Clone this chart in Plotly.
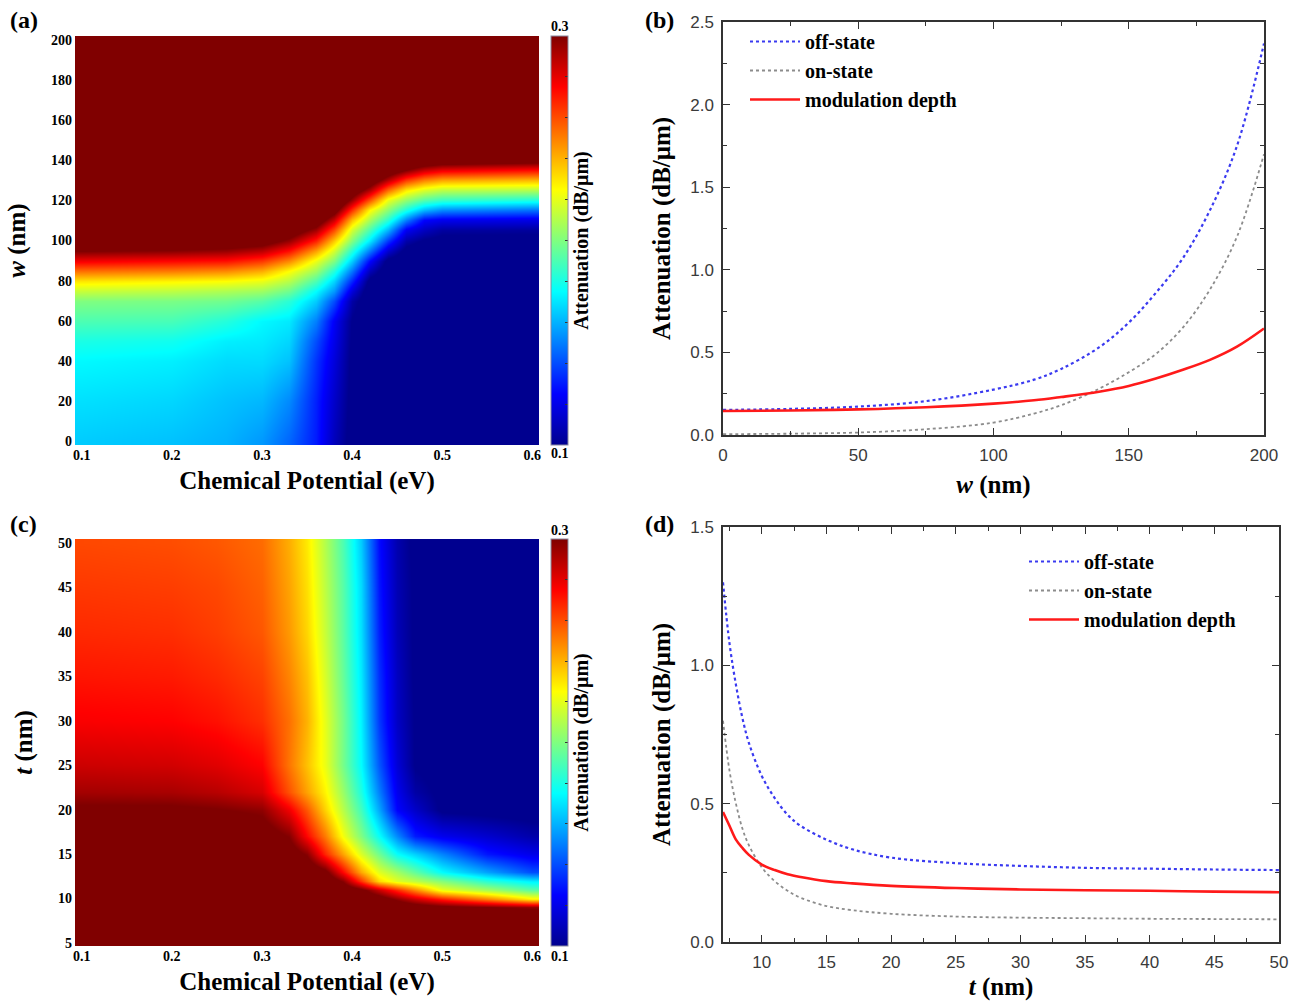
import plotly.graph_objects as go

# ---------------- data ----------------
# (a) attenuation map: chemical potential (columns) vs waveguide width w (rows)
mu_a = [0.1, 0.2, 0.26, 0.3, 0.33, 0.36, 0.38, 0.4, 0.42, 0.44, 0.46, 0.48, 0.5, 0.6]
w_a = [0, 20, 40, 50, 60, 70, 75, 80, 85, 90, 95, 100, 105, 110, 115, 120, 125, 130, 135, 140, 150, 200]
# one list per chemical-potential column, ordered like w_a
cols_a = [
    [.165, .169, .174, .180, .190, .200, .214, .230, .253, .277, .300, .320, .330, .340, .340, .340, .340, .340, .340, .340, .340, .340],
    [.163, .167, .172, .178, .189, .199, .212, .227, .251, .274, .298, .318, .330, .340, .340, .340, .340, .340, .340, .340, .340, .340],
    [.160, .163, .168, .172, .182, .197, .209, .225, .248, .272, .295, .315, .330, .340, .340, .340, .340, .340, .340, .340, .340, .340],
    [.155, .161, .168, .171, .174, .192, .206, .221, .241, .264, .288, .310, .325, .335, .340, .340, .340, .340, .340, .340, .340, .340],
    [.145, .152, .163, .167, .171, .183, .197, .211, .225, .248, .272, .295, .315, .330, .340, .340, .340, .340, .340, .340, .340, .340],
    [.130, .131, .135, .140, .150, .165, .175, .190, .206, .221, .243, .268, .293, .315, .330, .340, .340, .340, .340, .340, .340, .340],
    [.110, .113, .117, .120, .123, .140, .155, .167, .182, .200, .216, .235, .260, .285, .310, .330, .340, .340, .340, .340, .340, .340],
    [.095, .096, .097, .098, .099, .105, .117, .132, .148, .165, .182, .200, .216, .237, .265, .294, .315, .330, .340, .340, .340, .340],
    [.090, .090, .090, .090, .090, .090, .090, .095, .109, .125, .148, .170, .189, .207, .225, .258, .290, .315, .330, .340, .340, .340],
    [.090, .090, .090, .090, .090, .090, .090, .090, .090, .095, .114, .135, .160, .183, .202, .221, .254, .289, .315, .330, .340, .340],
    [.090, .090, .090, .090, .090, .090, .090, .090, .090, .090, .095, .106, .122, .150, .180, .204, .229, .264, .300, .325, .340, .340],
    [.090, .090, .090, .090, .090, .090, .090, .090, .090, .090, .090, .098, .111, .125, .161, .192, .218, .250, .286, .320, .340, .340],
    [.090, .090, .090, .090, .090, .090, .090, .090, .090, .090, .090, .095, .104, .121, .152, .186, .212, .243, .279, .315, .340, .340],
    [.090, .090, .090, .090, .090, .090, .090, .090, .090, .090, .090, .095, .103, .119, .147, .181, .210, .239, .273, .310, .340, .340],
]

# (c) attenuation map: chemical potential (columns) vs thickness t (rows)
mu_c = [0.1, 0.2, 0.25, 0.3, 0.33, 0.35, 0.37, 0.39, 0.41, 0.43, 0.45, 0.47, 0.5, 0.55, 0.6]
t_c = [5, 8, 9, 10, 11, 12, 13, 15, 17, 20, 22, 25, 30, 35, 40, 45, 50]
z_c = [
    [.32, .32, .32, .32, .32, .32, .32, .32, .32, .32, .32, .32, .32, .32, .32],
    [.32, .32, .32, .32, .32, .32, .32, .32, .32, .32, .32, .32, .32, .32, .32],
    [.32, .32, .32, .32, .32, .32, .32, .32, .32, .32, .315, .31, .305, .30, .295],
    [.32, .32, .32, .32, .32, .32, .32, .32, .315, .31, .297, .285, .27, .25, .228],
    [.32, .32, .32, .32, .32, .32, .32, .315, .305, .286, .268, .249, .222, .208, .193],
    [.32, .32, .32, .32, .32, .32, .315, .298, .265, .232, .219, .212, .201, .183, .172],
    [.32, .32, .32, .32, .32, .315, .305, .274, .242, .219, .207, .194, .175, .157, .14],
    [.32, .32, .32, .32, .31, .298, .268, .243, .218, .197, .176, .166, .151, .129, .12],
    [.32, .32, .32, .31, .299, .274, .251, .223, .20, .176, .152, .13, .121, .114, .106],
    [.303, .303, .301, .297, .278, .258, .234, .211, .188, .158, .125, .113, .098, .096, .095],
    [.293, .292, .289, .283, .259, .243, .227, .205, .181, .15, .121, .105, .097, .095, .095],
    [.285, .284, .281, .275, .252, .237, .221, .198, .175, .142, .116, .099, .095, .095, .095],
    [.276, .275, .272, .266, .253, .240, .220, .198, .173, .136, .112, .099, .095, .095, .095],
    [.271, .270, .267, .262, .249, .237, .217, .195, .171, .134, .111, .098, .095, .095, .095],
    [.267, .266, .263, .258, .245, .233, .214, .193, .169, .131, .109, .098, .095, .095, .095],
    [.264, .263, .261, .256, .243, .231, .212, .192, .168, .129, .108, .098, .095, .095, .095],
    [.261, .260, .258, .254, .241, .229, .210, .190, .165, .127, .107, .097, .095, .095, .095],
]

# (b) attenuation vs w
w_b = [0, 25, 50, 75, 100, 115, 125, 139, 150, 160, 170, 180, 190, 200]
off_b = [0.152, 0.158, 0.172, 0.205, 0.275, 0.335, 0.40, 0.53, 0.68, 0.86, 1.07, 1.36, 1.75, 2.37]
on_b = [0.005, 0.008, 0.015, 0.035, 0.075, 0.13, 0.18, 0.28, 0.38, 0.49, 0.65, 0.88, 1.20, 1.70]
mod_b = [0.145, 0.148, 0.155, 0.168, 0.19, 0.21, 0.23, 0.262, 0.297, 0.342, 0.395, 0.455, 0.535, 0.645]

# (d) attenuation vs t
t_d = [7, 7.5, 8, 8.5, 9, 10, 11, 12, 13, 15, 17, 20, 25, 30, 35, 40, 45, 50]
off_d = [1.30, 1.08, 0.93, 0.81, 0.72, 0.60, 0.52, 0.46, 0.42, 0.37, 0.335, 0.305, 0.285, 0.275, 0.268, 0.265, 0.262, 0.26]
on_d = [0.80, 0.62, 0.50, 0.41, 0.35, 0.27, 0.22, 0.185, 0.16, 0.13, 0.115, 0.102, 0.092, 0.088, 0.086, 0.084, 0.083, 0.082]
mod_d = [0.47, 0.42, 0.37, 0.34, 0.315, 0.28, 0.26, 0.245, 0.235, 0.22, 0.212, 0.203, 0.195, 0.19, 0.187, 0.185, 0.182, 0.18]

legend_names = ["off-state", "on-state", "modulation depth"]

# ---------------- style ----------------
SERIF = "Liberation Serif, Times New Roman, serif"
SANS = "Liberation Sans, Arial, sans-serif"
jet = [[0.0, "rgb(0,0,143)"], [0.125, "rgb(0,0,255)"], [0.375, "rgb(0,255,255)"],
       [0.625, "rgb(255,255,0)"], [0.875, "rgb(255,0,0)"], [1.0, "rgb(128,0,0)"]]

W, H = 1289, 1001
def px(x):
    return x / W
def py(y):
    return 1 - y / H

z_a = [list(r) for r in zip(*cols_a)]

fig = go.Figure()

def cbar(top, bottom):
    return dict(
        x=px(551), xanchor="left", xpad=0, ypad=0,
        y=(py(top) + py(bottom)) / 2, yanchor="middle",
        len=(bottom - top) / H, lenmode="fraction", thickness=17,
        outlinewidth=1, outlinecolor="#8a8aa0",
        ticks="inside", ticklen=3, tickcolor="#333", tickwidth=1,
        tick0=0.1, dtick=0.02, showticklabels=False,
        title=dict(text="Attenuation (dB/μm)", side="right",
                   font=dict(family=SERIF, size=20, color="black", weight="bold")),
    )

fig.add_trace(go.Heatmap(x=mu_a, y=w_a, z=z_a, colorscale=jet, zmin=0.1, zmax=0.3,
                         zsmooth="best", colorbar=cbar(36, 445), xaxis="x", yaxis="y"))
fig.add_trace(go.Heatmap(x=mu_c, y=t_c, z=z_c, colorscale=jet, zmin=0.1, zmax=0.3,
                         zsmooth="best", colorbar=cbar(539, 946), xaxis="x3", yaxis="y3"))

line_styles = [
    dict(color="#3a3af0", width=2.2, dash="dot"),
    dict(color="#8c8c8c", width=1.8, dash="dot"),
    dict(color="#ff1a1a", width=2.6, dash="solid"),
]
for name, ys, st in zip(legend_names, [off_b, on_b, mod_b], line_styles):
    fig.add_trace(go.Scatter(x=w_b, y=ys, mode="lines", name=name, line=dict(shape="spline", **st),
                             xaxis="x2", yaxis="y2", legend="legend"))
for name, ys, st in zip(legend_names, [off_d, on_d, mod_d], line_styles):
    fig.add_trace(go.Scatter(x=t_d, y=ys, mode="lines", name=name, line=dict(shape="spline", **st),
                             xaxis="x4", yaxis="y4", legend="legend2"))

heat_tick = dict(family=SERIF, size=14, color="black", weight="bold")
title_font = dict(family=SERIF, size=25, color="black", weight="bold")
sans_tick = dict(family=SANS, size=17, color="#3a3a3a")

def heat_x(dom):
    return dict(domain=dom, range=[0.0925, 0.6075], tick0=0.1, dtick=0.1, tickformat=".1f",
                ticks="", showline=False, showgrid=False, zeroline=False, tickfont=heat_tick,
                ticklabelstandoff=0, automargin=False, ticklabeloverflow="allow",
                title=dict(text="Chemical Potential (eV)", font=title_font, standoff=9))

def heat_y(dom, rng, d, ttl):
    return dict(domain=dom, range=rng, dtick=d, ticks="", showline=False, showgrid=False,
                zeroline=False, tickfont=heat_tick, ticklabelstandoff=2, automargin=False,
                ticklabeloverflow="allow",
                title=dict(text=ttl, font=title_font, standoff=18))

def line_axis(dom, rng, d, minor_d, fmt, ttl, standoff, anchor):
    return dict(domain=dom, range=rng, dtick=d, tick0=0, tickformat=fmt,
                showline=True, linecolor="#333", linewidth=1.5, mirror="allticks",
                ticks="inside", ticklen=7, tickwidth=1.3, tickcolor="#333",
                minor=dict(dtick=minor_d, ticks="inside", ticklen=4, tickwidth=1.2, tickcolor="#333"),
                showgrid=False, zeroline=False, tickfont=sans_tick, ticklabelstandoff=4,
                anchor=anchor, automargin=False, ticklabeloverflow="allow",
                title=dict(text=ttl, font=title_font, standoff=standoff))

legend_common = dict(font=dict(family=SERIF, size=20, color="black", weight="bold"),
                     bgcolor="rgba(0,0,0,0)", borderwidth=0, xanchor="left", yanchor="top",
                     tracegroupgap=0, itemwidth=50)

fig.update_layout(
    width=W, height=H, margin=dict(l=0, r=0, t=0, b=0, autoexpand=False),
    paper_bgcolor="white", plot_bgcolor="white", showlegend=True,
    xaxis=dict(**heat_x([px(75), px(539)]), anchor="y"),
    yaxis=dict(**heat_y([py(445), py(36)], [-2, 202], 20, "<i>w</i> (nm)"), anchor="x"),
    xaxis3=dict(**heat_x([px(75), px(539)]), anchor="y3"),
    yaxis3=dict(**heat_y([py(946), py(539)], [4.66, 50.45], 5, "<i>t</i> (nm)"), anchor="x3"),
    xaxis2=line_axis([px(723), px(1264)], [0, 200], 50, 25, "d", "<i>w</i> (nm)", 11, "y2"),
    yaxis2=line_axis([py(435), py(22)], [0, 2.5], 0.5, 0.25, ".1f", "Attenuation (dB/μm)", 12, "x2"),
    xaxis4=line_axis([px(723), px(1279)], [7, 50], 5, 2.5, "d", "<i>t</i> (nm)", 15, "y4"),
    yaxis4=line_axis([py(942), py(527)], [0, 1.5], 0.5, 0.25, ".1f", "Attenuation (dB/μm)", 12, "x4"),
    legend=dict(x=px(745), y=py(22), **legend_common),
    legend2=dict(x=px(1024), y=py(542), **legend_common),
)

ann_font = dict(family=SERIF, size=24, color="black", weight="bold")
for txt, x, y in [("(a)", 8, 20), ("(b)", 643, 20), ("(c)", 8, 524), ("(d)", 643, 524)]:
    fig.add_annotation(text=txt, x=px(x), y=py(y), xref="paper", yref="paper",
                       xanchor="left", yanchor="middle", showarrow=False, font=ann_font)
cb_font = dict(family=SERIF, size=14, color="black", weight="bold")
for txt, y in [("0.3", 27), ("0.1", 454), ("0.3", 530), ("0.1", 956)]:
    fig.add_annotation(text=txt, x=px(560), y=py(y), xref="paper", yref="paper",
                       xanchor="center", yanchor="middle", showarrow=False, font=cb_font)

# place the figure at the very top-left of the page (no default body margin)
fig.write_html("out.html", config={"displayModeBar": False},
               post_script="document.body.style.margin='0';")
